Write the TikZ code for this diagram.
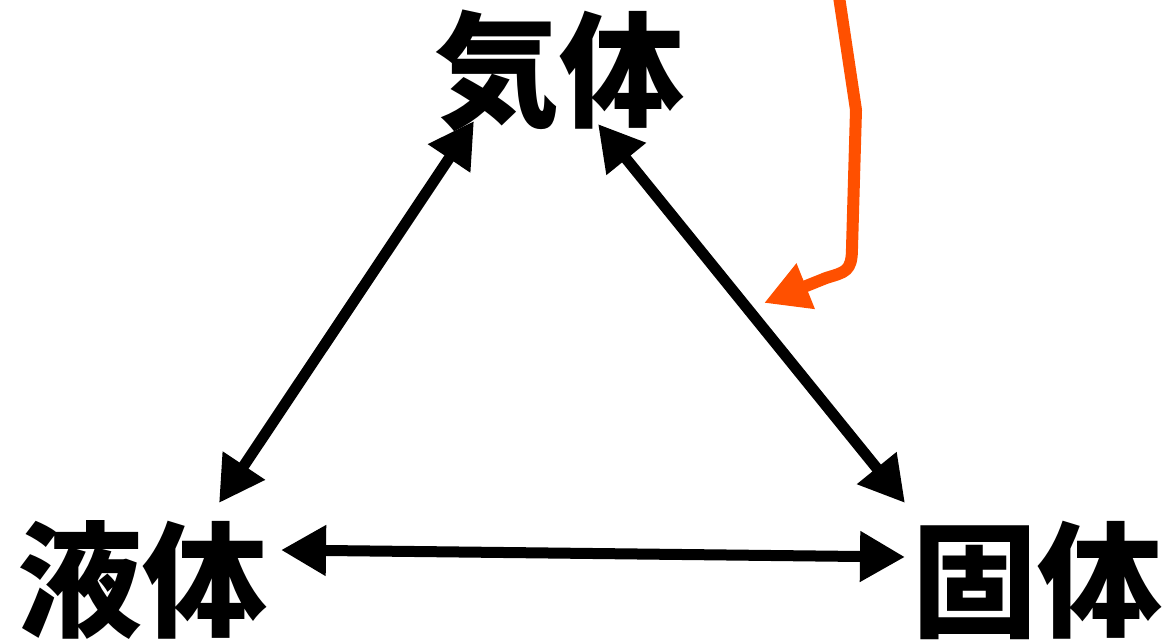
\documentclass[tikz,border=0pt]{standalone}
\usepackage{fontspec}
\newfontfamily\cjk{Noto Sans CJK JP}
\usetikzlibrary{arrows.meta}
\definecolor{arrorange}{RGB}{255,80,0}
\tikzset{
  state/.style={inner sep=0pt, font=\cjk\bfseries\fontsize{125}{125}\selectfont},
  link/.style={line width=11pt, {Triangle[length=45pt,width=48pt]}-{Triangle[length=45pt,width=48pt]}},
  hint/.style={line width=12pt, arrorange, line join=round, -{Triangle[length=45pt,width=46pt]}}
}
\begin{document}
\begin{tikzpicture}[x=1pt,y=-1pt]
\useasboundingbox (0,0) rectangle (1172,644);
\clip (0,0) rectangle (1172,644);
\node[state] (gas) at (559,71) {気体};
\node[state] (liq) at (142,580) {液体};
\node[state] (sol) at (1037,580) {固体};
\coordinate (gl) at (474,121);
\coordinate (lg) at (219,503);
\coordinate (gs) at (598,124);
\coordinate (sg) at (905,503);
\coordinate (ls) at (281,550);
\coordinate (sl) at (905,557);
\draw[link] (gl) -- (lg);
\draw[link] (gs) -- (sg);
\draw[link] (ls) -- (sl);
\coordinate (o1) at (838,-10);
\coordinate (o4) at (764,303);
\draw[hint] (o1) -- (856,110) -- (852,248) .. controls (852,272) and (845,272) .. (826,278) -- (o4);
\end{tikzpicture}
\end{document}
